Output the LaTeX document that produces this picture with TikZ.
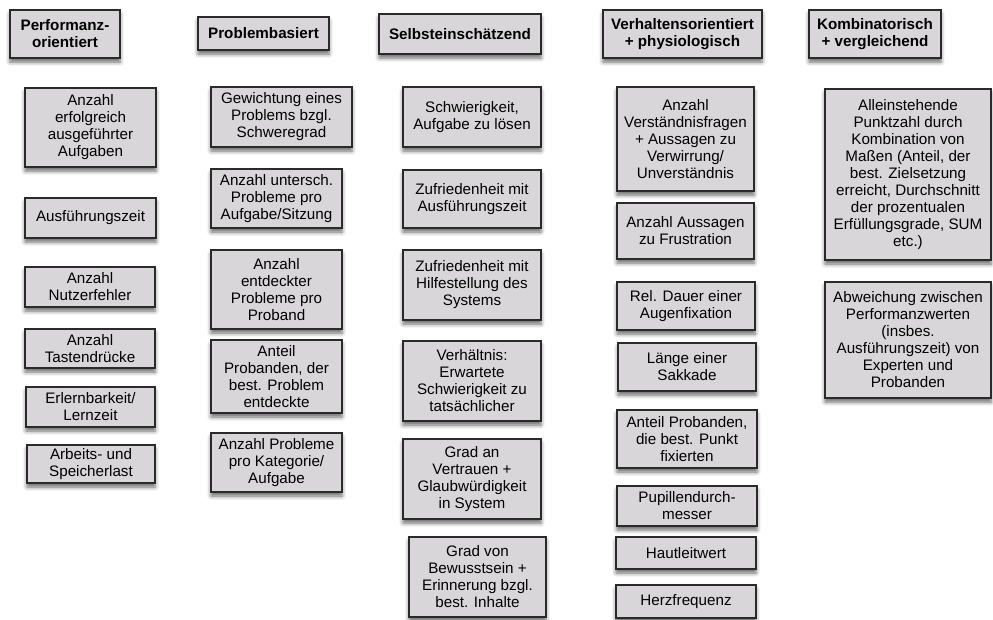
\documentclass[tikz,border=0pt]{standalone}
\usepackage{fontspec}
\setmainfont{Liberation Sans}
\usetikzlibrary{shadows.blur}
\definecolor{boxfill}{HTML}{D8D6D8}
\definecolor{boxline}{HTML}{2A2A2A}
\tikzset{
  box/.style={draw=boxline, line width=1.1pt, fill=boxfill, inner sep=0pt,
    align=center, font=\fontsize{15.2}{17}\selectfont,
    blur shadow={shadow xshift=0pt, shadow yshift=-4pt,
      shadow blur radius=4pt, shadow opacity=60}},
  head/.style={box, font=\bfseries\fontsize{15.2}{17}\selectfont},
  sz/.style 2 args={minimum width=#1pt, minimum height=#2pt},
}
\begin{document}
\begin{tikzpicture}[x=1pt, y=-1pt]
\useasboundingbox (0,0) rectangle (993,619);

% Performanzorientiert
\node[head, sz={110}{48}] (p0) at (65,34) {Performanz-\\orientiert};
\node[box, sz={131}{79}] (p1) at (90.5,127.5) {Anzahl\\erfolgreich\\ausgeführter\\Aufgaben};
\node[box, sz={131}{40}] (p2) at (90.5,218) {Ausführungszeit};
\node[box, sz={130}{40}] (p3) at (90,287) {Anzahl\\Nutzerfehler};
\node[box, sz={130}{39}] (p4) at (90,348.5) {Anzahl\\Tastendrücke};
\node[box, sz={129}{40}] (p5) at (90.5,407) {Erlernbarkeit/\\Lernzeit};
\node[box, sz={128}{38}] (p6) at (91,464) {Arbeits- und\\Speicherlast};

% Problembasiert
\node[head, sz={131}{33}] (b0) at (263.5,33.5) {Problembasiert};
\node[box, sz={141}{60}] (b1) at (281.5,117) {Gewichtung eines\\Problems bzgl.\\Schweregrad};
\node[box, sz={131}{59}] (b2) at (276.5,198.5) {Anzahl untersch.\\Probleme pro\\Aufgabe/Sitzung};
\node[box, sz={131}{79}] (b3) at (276.5,289.5) {Anzahl\\entdeckter\\Probleme pro\\Proband};
\node[box, sz={131}{73}] (b4) at (276.5,376.5) {Anteil\\Probanden, der\\best. Problem\\entdeckte};
\node[box, sz={131}{59}] (b5) at (276.5,462.5) {Anzahl Probleme\\pro Kategorie/\\Aufgabe};

% Selbsteinschaetzend
\node[head, sz={162}{40}] (s0) at (460,34) {Selbsteinschätzend};
\node[box, sz={138}{60}] (s1) at (472,117) {Schwierigkeit,\\Aufgabe zu lösen};
\node[box, sz={138}{58}] (s2) at (472,199) {Zufriedenheit mit\\Ausführungszeit};
\node[box, sz={138}{70}] (s3) at (472,285) {Zufriedenheit mit\\Hilfestellung des\\Systems};
\node[box, sz={138}{80}] (s4) at (472,381) {Verhältnis:\\Erwartete\\Schwierigkeit zu\\tatsächlicher};
\node[box, sz={138}{80}] (s5) at (472,479) {Grad an\\Vertrauen +\\Glaubwürdigkeit\\in System};
\node[box, sz={137}{80}] (s6) at (477.5,577) {Grad von\\Bewusstsein +\\Erinnerung bzgl.\\best. Inhalte};

% Verhaltensorientiert + physiologisch
\node[head, sz={159}{48}] (v0) at (682.5,34) {Verhaltensorientiert\\+ physiologisch};
\node[box, sz={137}{104}] (v1) at (685.5,139) {Anzahl\\Verständnisfragen\\+ Aussagen zu\\Verwirrung/\\Unverständnis};
\node[box, sz={137}{56}] (v2) at (685.5,231) {Anzahl Aussagen\\zu Frustration};
\node[box, sz={138}{48}] (v3) at (686,306) {Rel. Dauer einer\\Augenfixation};
\node[box, sz={138}{48}] (v4) at (687,367) {Länge einer\\Sakkade};
\node[box, sz={140}{58}] (v5) at (687,439) {Anteil Probanden,\\die best. Punkt\\fixierten};
\node[box, sz={140}{40}] (v6) at (687,506) {Pupillendurch-\\messer};
\node[box, sz={140}{32}] (v7) at (686,553) {Hautleitwert};
\node[box, sz={140}{33}] (v8) at (686,601.5) {Herzfrequenz};

% Kombinatorisch + vergleichend
\node[head, sz={132}{48}] (k0) at (875,34) {Kombinatorisch\\+ vergleichend};
\node[box, sz={166}{171}] (k1) at (908,174.5) {Alleinstehende\\Punktzahl durch\\Kombination von\\Maßen (Anteil, der\\best. Zielsetzung\\erreicht, Durchschnitt\\der prozentualen\\Erfüllungsgrade, SUM\\etc.)};
\node[box, sz={166}{116}] (k2) at (908,340) {Abweichung zwischen\\Performanzwerten\\(insbes.\\Ausführungszeit) von\\Experten und\\Probanden};
\end{tikzpicture}
\end{document}
